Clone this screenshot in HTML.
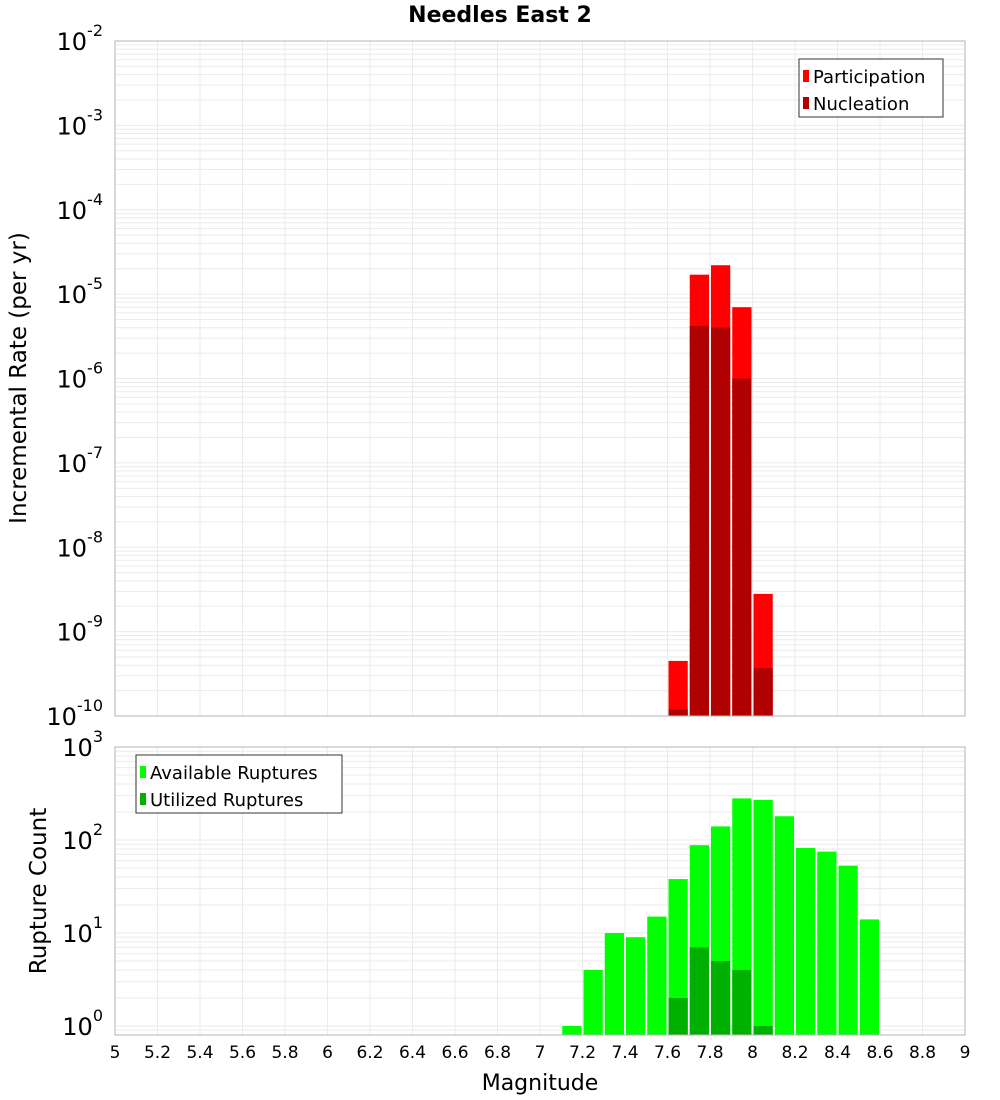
<!DOCTYPE html>
<html><head><meta charset="utf-8"><style>
html,body{margin:0;padding:0;background:#fff;}
svg{display:block;font-family:"DejaVu Sans","Liberation Sans",sans-serif;}
</style></head><body>
<svg id="chart" width="1000" height="1100" xmlns="http://www.w3.org/2000/svg">
<text x="500" y="22" text-anchor="middle" font-size="22" font-weight="bold">Needles East 2</text>
<g id="gtop"></g>
<g id="gbot"></g>
<text transform="translate(26,378) rotate(-90)" text-anchor="middle" font-size="23">Incremental Rate (per yr)</text>
<text transform="translate(46,891) rotate(-90)" text-anchor="middle" font-size="23">Rupture Count</text>
<text x="540" y="1090" text-anchor="middle" font-size="22">Magnitude</text>
</svg>
<script>
const binCenters = [7.65, 7.75, 7.85, 7.95, 8.05];
const participation = [4.5e-10, 1.7e-5, 2.2e-5, 7e-6, 2.8e-9];
const nucleation = [1.2e-10, 4.2e-6, 4e-6, 1e-6, 3.7e-10];
const countCenters = [7.15,7.25,7.35,7.45,7.55,7.65,7.75,7.85,7.95,8.05,8.15,8.25,8.35,8.45,8.55];
const available = [1,4,10,9,15,38,88,140,280,270,180,82,75,53,14];
const utilizedCenters = [7.65,7.75,7.85,7.95,8.05];
const utilized = [2,7,5,4,1];
const xTicks = [5,5.2,5.4,5.6,5.8,6,6.2,6.4,6.6,6.8,7,7.2,7.4,7.6,7.8,8,8.2,8.4,8.6,8.8,9];
const xTickLabels = ["5","5.2","5.4","5.6","5.8","6","6.2","6.4","6.6","6.8","7","7.2","7.4","7.6","7.8","8","8.2","8.4","8.6","8.8","9"];
const rateExps = [-10,-9,-8,-7,-6,-5,-4,-3,-2];
const countExps = [0,1,2,3];

const NS="http://www.w3.org/2000/svg";
const L=115,R=965;
const xs=v=>L+(v-5)/4*(R-L);
const T1=41,B1=716, yTop=v=>B1-(Math.log10(v)+10)/8*(B1-T1);
const T2=747,B2=1035, D2=93, yBot=v=>(T2+3*D2)-Math.log10(v)*D2;
function mk(p,tag,a){const e=document.createElementNS(NS,tag);for(const k in a)e.setAttribute(k,a[k]);p.appendChild(e);return e;}
const gTop=document.getElementById('gtop'), gBot=document.getElementById('gbot');

function grid(g,T,B,yf,lo,hi){
  for(let d=lo;d<hi;d++)for(let m=1;m<10;m++){const v=m*Math.pow(10,d);const y=yf(v);if(y<T||y>B)continue;
    const l=mk(g,'line',{x1:L,x2:R,y1:y,y2:y,stroke:'#ebebeb','stroke-width':1});
    
    }
  xTicks.forEach(t=>{const l=mk(g,'line',{x1:xs(t),x2:xs(t),y1:T,y2:B,stroke:'#ebebeb','stroke-width':1});
    
    });
}
grid(gTop,T1,B1,yTop,-10,-1);
grid(gBot,T2,B2,yBot,-1,3);

function bars(g,centers,vals,yf,B,col,name){
  centers.forEach((c,i)=>{const y=yf(vals[i]);const r=mk(g,'rect',{x:xs(c-0.05)+1,y:y,width:xs(c+0.05)-xs(c-0.05)-2,height:B-y,fill:col});
    
    });
}
bars(gTop,binCenters,participation,yTop,B1,'#ff0000','participation-bar');
bars(gTop,binCenters,nucleation,yTop,B1,'#b00000','nucleation-bar');
bars(gBot,countCenters,available,yBot,B2,'#00ff00','available-bar');
bars(gBot,utilizedCenters,utilized,yBot,B2,'#00b000','utilized-bar');

[[gTop,T1,B1],[gBot,T2,B2]].forEach(([g,T,B])=>{const f=mk(g,'rect',{x:L,y:T,width:R-L,height:B-T,fill:'none',stroke:'#b4b4b4','stroke-width':1});
  
  });

function ylab(g,exps,yf){
  exps.forEach(e=>{const y=yf(Math.pow(10,e));const t=mk(g,'text',{x:103,y:y+9,'text-anchor':'end','font-size':24});
    
    
    t.textContent='10';
    const s=mk(t,'tspan',{dy:-14,'font-size':16});s.textContent=String(e);});
}
ylab(gTop,rateExps,yTop);
ylab(gBot,countExps,yBot);

xTicks.forEach((t,i)=>{const e=mk(gBot,'text',{x:xs(t),y:1058,'text-anchor':'middle','font-size':17});
  
  
  e.textContent=xTickLabels[i];});

function legend(g,x0,y0,w,items){
  const b=mk(g,'rect',{x:x0,y:y0,width:w,height:58,fill:'#fff',stroke:'#333','stroke-width':1});
  
  
  items.forEach(([lab,col],i)=>{const yy=y0+20+i*27;
    const r=mk(g,'rect',{x:x0+4,y:yy-9,width:6,height:12,fill:col});
    
    
    const t=mk(g,'text',{x:x0+14,y:yy+4,'font-size':18});
    
    
    t.textContent=lab;});
}
legend(gTop,799,59,144,[['Participation','#ff0000'],['Nucleation','#b00000']]);
legend(gBot,136,755,206,[['Available Ruptures','#00ff00'],['Utilized Ruptures','#00b000']]);
</script>
</body></html>
